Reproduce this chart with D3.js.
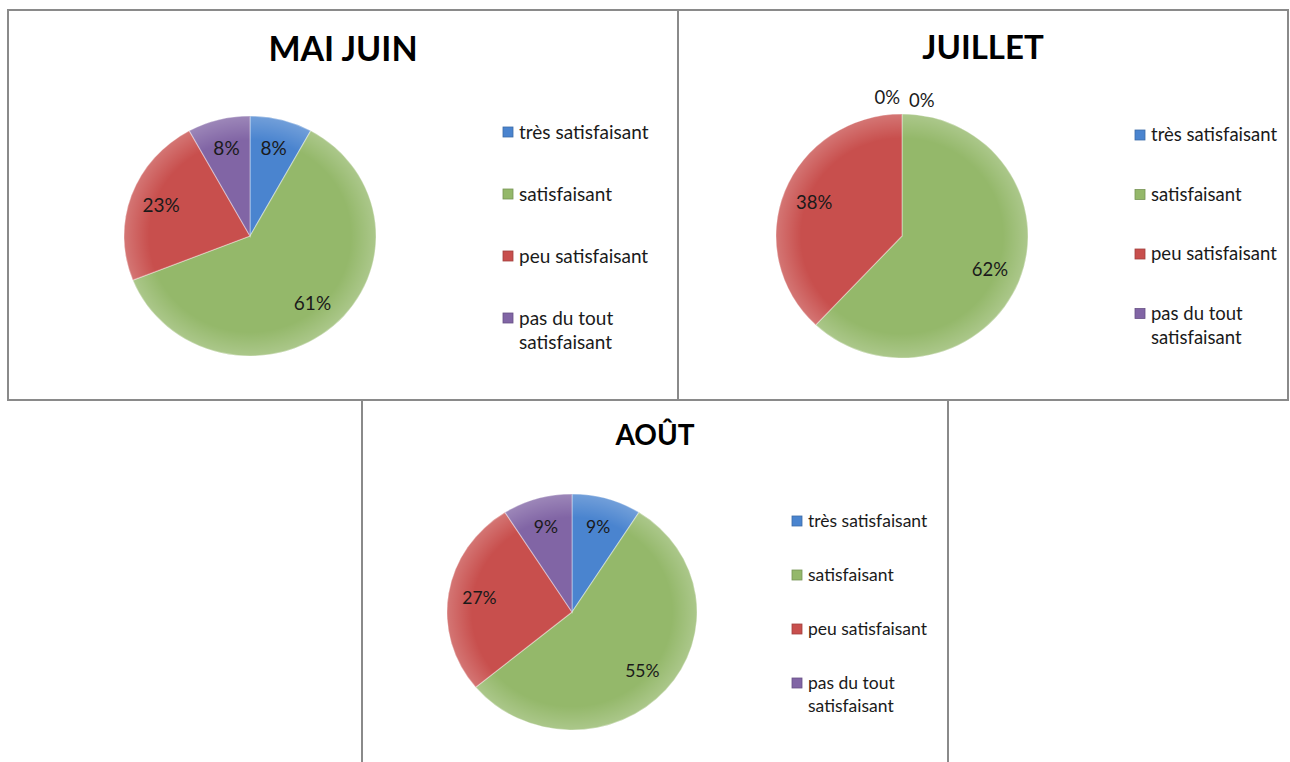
<!DOCTYPE html>
<html>
<head>
<meta charset="utf-8">
<script src="https://cdn.jsdelivr.net/npm/d3@7"></script>
<style>
  body { margin: 0; background: #fff; }
  svg { display: block; font-family: Lato, "Open Sans", sans-serif; }
</style>
</head>
<body>
<div id="container"></div>
<script>
// data
const categories = ["très satisfaisant", "satisfaisant", "peu satisfaisant", "pas du tout satisfaisant"];
const months = ["MAI JUIN", "JUILLET", "AOÛT"];
const maiJuin = [8, 61, 23, 8];
const juillet = [0, 62, 38, 0];
const aout = [9, 55, 27, 9];
const colors = ["#4a84cf", "#94b86a", "#c84f4d", "#8165a5"];

const w = 1290, h = 762;

// one layout entry per panel
const panels = [
  {title: months[0], values: maiJuin, box: [8, 10, 670, 390], cx: 250, cy: 236, rx: 126, ry: 120,
   titleY: 61, titleSize: 34, legX: 503, legY: 132, legStep: 62, font: 19},
  {title: months[1], values: juillet, box: [678, 10, 610, 390], cx: 902, cy: 236, rx: 126, ry: 122,
   titleY: 59, titleSize: 33, legX: 1135, legY: 135, legStep: 59.5, font: 18.5},
  {title: months[2], values: aout, box: [362, 400, 586, 380], cx: 572, cy: 612, rx: 125, ry: 118,
   titleY: 445, titleSize: 28, legX: 792, legY: 521, legStep: 54, font: 17.5}
];

let svg = d3.select("#container")
    .append("svg")
    .attr("width", w)
    .attr("height", h);

let defs = svg.append("defs");
let rim = defs.append("radialGradient").attr("id", "rim");
rim.append("stop").attr("offset", "80%").attr("stop-color", "#fff").attr("stop-opacity", 0);
rim.append("stop").attr("offset", "100%").attr("stop-color", "#fff").attr("stop-opacity", 0.22);

const pie = d3.pie().sort(null).value(d => d);

function drawPanel(p) {
    const g = svg.append("g");

    g.append("rect")
        .attr("x", p.box[0]).attr("y", p.box[1])
        .attr("width", p.box[2]).attr("height", p.box[3])
        .attr("fill", "none")
        .attr("stroke", "#8a8a8a")
        .attr("stroke-width", 2);

    g.append("text")
        .attr("x", p.box[0] + p.box[2] / 2)
        .attr("y", p.titleY)
        .attr("text-anchor", "middle")
        .attr("font-size", p.titleSize)
        .attr("font-weight", "bold")
        .attr("fill", "#000")
        .text(p.title);

    const arcs = pie(p.values);
    const arc = d3.arc().innerRadius(0).outerRadius(p.ry);
    const labelArc = d3.arc().innerRadius(p.ry * 0.75).outerRadius(p.ry * 0.75);
    const sx = p.rx / p.ry;

    const pieG = g.append("g")
        .attr("transform", "translate(" + p.cx + "," + p.cy + ") scale(" + sx + ",1)");

    pieG.selectAll("path.slice")
        .data(arcs.filter(d => d.value > 0))
        .enter()
        .append("path")
        .attr("class", "slice")
        .attr("d", arc)
        .attr("fill", d => colors[d.index])
        .attr("stroke", "rgba(255,255,255,0.35)")
        .attr("stroke-width", 1.2)
        .attr("vector-effect", "non-scaling-stroke");

    pieG.append("circle")
        .attr("r", p.ry)
        .attr("fill", "url(#rim)");

    g.selectAll("text.lbl")
        .data(arcs)
        .enter()
        .append("text")
        .attr("class", "lbl")
        .attr("font-size", p.font)
        .attr("fill", "#1a1a1a")
        .attr("text-anchor", d => {
            if (d.value > 0) return "middle";
            return d.index === 0 ? "start" : "end";
        })
        .attr("x", d => {
            if (d.value > 0) return p.cx + labelArc.centroid(d)[0] * sx;
            return d.index === 0 ? p.cx + 7 : p.cx - 2;
        })
        .attr("y", d => {
            if (d.value > 0) return p.cy + labelArc.centroid(d)[1] + p.font * 0.35;
            return d.index === 0 ? p.cy - p.ry - 7 : p.cy - p.ry - 10;
        })
        .text(d => d.value + "%");

    const leg = g.selectAll("g.leg")
        .data(categories)
        .enter()
        .append("g")
        .attr("class", "leg")
        .attr("transform", (d, i) => "translate(" + p.legX + "," + (p.legY + i * p.legStep) + ")");

    leg.append("rect")
        .attr("x", 0).attr("y", -5)
        .attr("width", 10).attr("height", 10)
        .attr("fill", (d, i) => colors[i])
        .attr("stroke", (d, i) => d3.color(colors[i]).darker(0.6))
        .attr("stroke-width", 0.8);

    leg.append("text")
        .attr("x", 16)
        .attr("y", p.font * 0.35)
        .attr("font-size", p.font)
        .attr("fill", "#1a1a1a")
        .each(function(d) {
            const t = d3.select(this);
            const words = d === categories[3] ? ["pas du tout", "satisfaisant"] : [d];
            words.forEach((wd, k) => {
                t.append("tspan")
                    .attr("x", 16)
                    .attr("dy", k === 0 ? 0 : p.font * 1.28)
                    .text(wd);
            });
        });
}

panels.forEach(drawPanel);
</script>
</body>
</html>
